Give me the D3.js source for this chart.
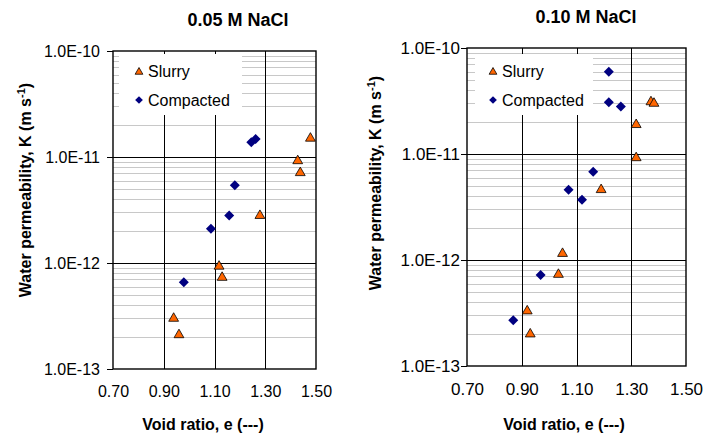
<!DOCTYPE html>
<html>
<head>
<meta charset="utf-8">
<script src="https://cdn.jsdelivr.net/npm/d3@7"></script>
<style>
  body { margin: 0; background: #fff; }
  text { font-family: Arial, "Liberation Sans", sans-serif; fill: #000; }
</style>
</head>
<body>
<div id="chart"></div>
<script>
// tick values shared by both panels
var xTicks = [0.70, 0.90, 1.10, 1.30, 1.50]
var yTicks = [1e-13, 1e-12, 1e-11, 1e-10]
var seriesNames = ["Slurry", "Compacted"]

// 0.05 M NaCl  (void ratio, K)
var slurry005_e = [1.478, 1.428, 1.438, 1.279, 1.118, 1.130, 0.939, 0.960]
var slurry005_k = [1.5e-11, 9.2e-12, 7.1e-12, 2.8e-12, 9.3e-13, 7.3e-13, 3.0e-13, 2.1e-13]
var compact005_e = [1.245, 1.262, 1.180, 1.158, 1.086, 0.979]
var compact005_k = [1.38e-11, 1.48e-11, 5.4e-12, 2.8e-12, 2.1e-12, 6.6e-13]

// 0.10 M NaCl
var slurry010_e = [1.372, 1.383, 1.318, 1.318, 1.190, 1.049, 1.034, 0.920, 0.931]
var slurry010_k = [3.1e-11, 3.0e-11, 1.89e-11, 9.2e-12, 4.6e-12, 1.15e-12, 7.3e-13, 3.3e-13, 2.0e-13]
var compact010_e = [1.218, 1.218, 1.262, 1.161, 1.071, 1.120, 0.969, 0.869]
var compact010_k = [5.97e-11, 3.07e-11, 2.8e-11, 6.8e-12, 4.6e-12, 3.7e-12, 7.2e-13, 2.7e-13]

var svg = d3.select("#chart")
  .append("svg")
  .attr("width", 719)
  .attr("height", 436)

var orange = "#FF6600", navy = "#000080"
var triangle = d3.symbol().type(d3.symbolTriangle)
var square = d3.symbol().type(d3.symbolSquare)

function zip(xs, ys) { return xs.map(function(v, i){ return {e: v, k: ys[i]} }) }

function drawPanel(p) {
  var g = svg.append("g")

  var x = d3.scaleLinear().domain([0.70, 1.50]).range([p.left, p.right])
  var y = d3.scaleLog().domain([1e-13, 1e-10]).range([p.bottom, p.top])

  // minor horizontal grid lines
  var minor = []
  for (var n = -13; n < -10; n++) {
    for (var m = 2; m <= 9; m++) minor.push(m * Math.pow(10, n))
  }
  g.selectAll(".minor")
    .data(minor)
    .enter().append("line")
    .attr("x1", p.left).attr("x2", p.right)
    .attr("y1", function(d){ return Math.round(y(d)) + 0.5 })
    .attr("y2", function(d){ return Math.round(y(d)) + 0.5 })
    .style("stroke", "#c8c8c8")
    .style("stroke-width", 1)

  // major grid lines
  g.selectAll(".hmajor")
    .data([1e-12, 1e-11])
    .enter().append("line")
    .attr("x1", p.left).attr("x2", p.right)
    .attr("y1", function(d){ return Math.round(y(d)) + 0.5 })
    .attr("y2", function(d){ return Math.round(y(d)) + 0.5 })
    .style("stroke", "#000")
  g.selectAll(".vmajor")
    .data([0.90, 1.10, 1.30])
    .enter().append("line")
    .attr("y1", p.top).attr("y2", p.bottom)
    .attr("x1", function(d){ return Math.round(x(d)) + 0.5 })
    .attr("x2", function(d){ return Math.round(x(d)) + 0.5 })
    .style("stroke", "#000")

  // legend box covers the grid
  g.append("rect")
    .attr("x", p.legX).attr("y", p.legY)
    .attr("width", p.legW).attr("height", p.legH)
    .style("fill", "#fff")

  // plot frame
  g.append("rect")
    .attr("x", p.left).attr("y", p.top)
    .attr("width", p.right - p.left).attr("height", p.bottom - p.top)
    .style("fill", "none")
    .style("stroke", "#000")
    .style("stroke-width", 1.4)

  // axes
  var yAxis = g.append("g")
    .attr("transform", "translate(" + p.left + ",0)")
    .call(d3.axisLeft(y).tickValues(yTicks).tickSize(6).tickPadding(p.yPad)
      .tickFormat(function(d){ return "1.0E" + Math.round(Math.log10(d)) }))
  yAxis.select(".domain").remove()
  yAxis.selectAll("text").style("font-size", p.tickFont + "px").style("font-family", null)

  var xAxis = g.append("g")
    .attr("transform", "translate(0," + p.bottom + ")")
    .call(d3.axisBottom(x).tickValues(xTicks).tickSize(0).tickPadding(17)
      .tickFormat(d3.format(".2f")))
  xAxis.select(".domain").remove()
  xAxis.selectAll("text").style("font-size", p.tickFont + "px").style("font-family", null)

  // points
  g.selectAll(".slurry")
    .data(zip(p.slurryE, p.slurryK))
    .enter().append("path")
    .attr("d", triangle.size(42))
    .attr("transform", function(d){ return "translate(" + x(d.e) + "," + y(d.k) + ")" })
    .style("fill", orange)
    .style("stroke", "#000")
    .style("stroke-width", 0.8)

  g.selectAll(".compact")
    .data(zip(p.compactE, p.compactK))
    .enter().append("path")
    .attr("d", square.size(50))
    .attr("transform", function(d){ return "translate(" + x(d.e) + "," + y(d.k) + ") rotate(45)" })
    .style("fill", navy)

  // legend entries
  g.append("path")
    .attr("d", triangle.size(26))
    .attr("transform", "translate(" + p.legMx + "," + (p.legY1 + 1) + ")")
    .style("fill", orange).style("stroke", "#000").style("stroke-width", 0.8)
  g.append("path")
    .attr("d", square.size(30))
    .attr("transform", "translate(" + p.legMx + "," + p.legY2 + ") rotate(45)")
    .style("fill", navy)
  g.selectAll(".legtext")
    .data(seriesNames)
    .enter().append("text")
    .attr("x", p.legTx)
    .attr("y", function(d, i){ return (i == 0 ? p.legY1 : p.legY2) + 6 })
    .style("font-size", "16px")
    .text(function(d){ return d })

  // title and axis labels
  g.append("text")
    .attr("x", p.titleX).attr("y", p.titleY)
    .attr("text-anchor", "middle")
    .style("font-size", "18px").style("font-weight", "bold")
    .text(p.title)

  g.append("text")
    .attr("x", p.xLabX).attr("y", 430)
    .attr("text-anchor", "middle")
    .style("font-size", "16px").style("font-weight", "bold")
    .text("Void ratio, e (---)")

  var yl = g.append("text")
    .attr("transform", "translate(" + p.yLabX + "," + p.yLabY + ") rotate(-90)")
    .attr("text-anchor", "middle")
    .style("font-size", "16px").style("font-weight", "bold")
  yl.append("tspan").text("Water permeability, K (m s")
  yl.append("tspan").attr("dy", -6).style("font-size", "11px").text("-1")
  yl.append("tspan").attr("dy", 6).text(")")
}

drawPanel({
  left: 113, right: 316, top: 51, bottom: 369,
  yPad: 7, tickFont: 16,
  title: "0.05 M NaCl", titleX: 238, titleY: 26,
  xLabX: 203, yLabX: 31, yLabY: 190,
  legX: 119, legY: 54, legW: 123, legH: 61,
  legMx: 139, legTx: 148, legY1: 71, legY2: 100,
  slurryE: slurry005_e, slurryK: slurry005_k,
  compactE: compact005_e, compactK: compact005_k
})

drawPanel({
  left: 467, right: 686, top: 48, bottom: 366,
  yPad: 1, tickFont: 17,
  title: "0.10 M NaCl", titleX: 586, titleY: 23,
  xLabX: 564, yLabX: 381, yLabY: 183,
  legX: 475, legY: 54, legW: 118, legH: 61,
  legMx: 493, legTx: 502, legY1: 71, legY2: 100,
  slurryE: slurry010_e, slurryK: slurry010_k,
  compactE: compact010_e, compactK: compact010_k
})
</script>
</body>
</html>
